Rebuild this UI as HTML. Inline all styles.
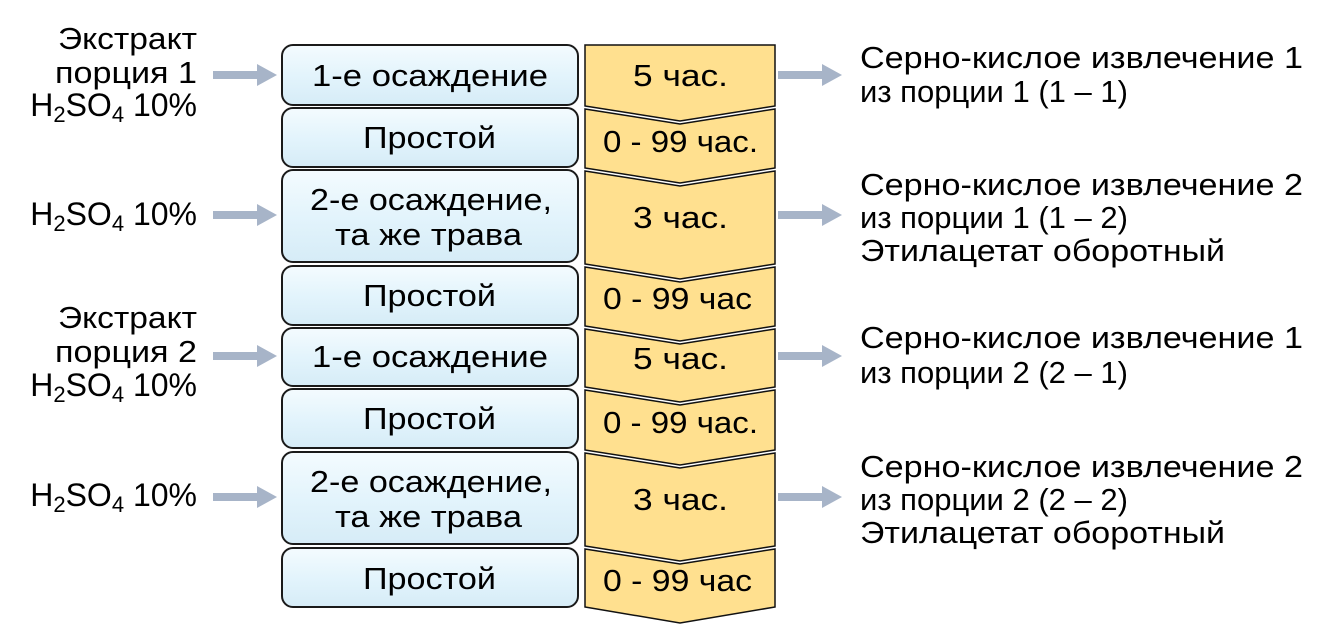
<!DOCTYPE html>
<html><head><meta charset="utf-8"><style>
html,body{margin:0;padding:0;background:#fff}
svg{display:block}
text{font-family:"Liberation Sans","Noto Sans CJK SC",sans-serif;fill:#000}
</style></head><body>
<svg width="1343" height="627" viewBox="0 0 1343 627" xmlns="http://www.w3.org/2000/svg">
<defs>
<linearGradient id="bg" x1="0" y1="0" x2="0" y2="1">
<stop offset="0" stop-color="#f4fbfe"/><stop offset="0.5" stop-color="#e3f4fc"/><stop offset="1" stop-color="#d6ecf7"/>
</linearGradient>
<g id="la"><rect x="0" y="-4" width="46" height="8" fill="#a7b4c8"/><polygon points="44,-11 64,0 44,11" fill="#a7b4c8"/></g>
</defs>
<g stroke="#111" stroke-width="1.5" fill="#ffe08f">
<polygon points="585,45 775,45 775,106 680,121 585,106"/>
<polygon points="585,109 680,124 775,109 775,168 680,183 585,168"/>
<polygon points="585,171 680,186 775,171 775,264 680,279 585,264"/>
<polygon points="585,267 680,282 775,267 775,326 680,341 585,326"/>
<polygon points="585,329 680,344 775,329 775,387 680,402 585,387"/>
<polygon points="585,390 680,405 775,390 775,450 680,465 585,450"/>
<polygon points="585,453 680,468 775,453 775,546 680,561 585,546"/>
<polygon points="585,549 680,564 775,549 775,607 680,623 585,607"/>
</g>
<g fill="url(#bg)" stroke="#1a1a1a" stroke-width="2">
<rect x="282" y="45" width="296" height="60" rx="11"/>
<rect x="282" y="108" width="296" height="59" rx="11"/>
<rect x="282" y="170" width="296" height="92" rx="11"/>
<rect x="282" y="266" width="296" height="59" rx="11"/>
<rect x="282" y="328" width="296" height="58" rx="11"/>
<rect x="282" y="389" width="296" height="59" rx="11"/>
<rect x="282" y="452" width="296" height="92" rx="11"/>
<rect x="282" y="548" width="296" height="59" rx="11"/>
</g>
<g font-size="31">
<text x="312" y="86" textLength="236" lengthAdjust="spacingAndGlyphs">1-е осаждение</text>
<text x="363" y="148" textLength="133" lengthAdjust="spacingAndGlyphs">Простой</text>
<text x="310" y="210" textLength="242" lengthAdjust="spacingAndGlyphs">2-е осаждение,</text>
<text x="335" y="245" textLength="187" lengthAdjust="spacingAndGlyphs">та же трава</text>
<text x="363" y="306" textLength="133" lengthAdjust="spacingAndGlyphs">Простой</text>
<text x="312" y="367" textLength="236" lengthAdjust="spacingAndGlyphs">1-е осаждение</text>
<text x="363" y="429" textLength="133" lengthAdjust="spacingAndGlyphs">Простой</text>
<text x="310" y="492" textLength="242" lengthAdjust="spacingAndGlyphs">2-е осаждение,</text>
<text x="335" y="527" textLength="187" lengthAdjust="spacingAndGlyphs">та же трава</text>
<text x="363" y="589" textLength="133" lengthAdjust="spacingAndGlyphs">Простой</text>

<text x="633" y="86" textLength="95" lengthAdjust="spacingAndGlyphs">5 час.</text>
<text x="603" y="152" textLength="155" lengthAdjust="spacingAndGlyphs">0 - 99 час.</text>
<text x="633" y="228" textLength="95" lengthAdjust="spacingAndGlyphs">3 час.</text>
<text x="603" y="309" textLength="149" lengthAdjust="spacingAndGlyphs">0 - 99 час</text>
<text x="633" y="369" textLength="95" lengthAdjust="spacingAndGlyphs">5 час.</text>
<text x="603" y="433" textLength="155" lengthAdjust="spacingAndGlyphs">0 - 99 час.</text>
<text x="633" y="510" textLength="95" lengthAdjust="spacingAndGlyphs">3 час.</text>
<text x="603" y="591" textLength="149" lengthAdjust="spacingAndGlyphs">0 - 99 час</text>

<text x="58" y="49" textLength="139" lengthAdjust="spacingAndGlyphs">Экстракт</text>
<text x="55" y="83" textLength="142" lengthAdjust="spacingAndGlyphs">порция 1</text>
<text x="58" y="328" textLength="139" lengthAdjust="spacingAndGlyphs">Экстракт</text>
<text x="55" y="362" textLength="142" lengthAdjust="spacingAndGlyphs">порция 2</text>
</g>
<g font-size="32" text-anchor="end">
<text x="197" y="116">H<tspan font-size="22" dy="6">2</tspan><tspan dy="-6">SO</tspan><tspan font-size="22" dy="6">4</tspan><tspan dy="-6"> 10%</tspan></text>
<text x="197" y="225">H<tspan font-size="22" dy="6">2</tspan><tspan dy="-6">SO</tspan><tspan font-size="22" dy="6">4</tspan><tspan dy="-6"> 10%</tspan></text>
<text x="197" y="396">H<tspan font-size="22" dy="6">2</tspan><tspan dy="-6">SO</tspan><tspan font-size="22" dy="6">4</tspan><tspan dy="-6"> 10%</tspan></text>
<text x="197" y="506">H<tspan font-size="22" dy="6">2</tspan><tspan dy="-6">SO</tspan><tspan font-size="22" dy="6">4</tspan><tspan dy="-6"> 10%</tspan></text>
</g>
<g font-size="31">
<text x="860" y="68" textLength="443" lengthAdjust="spacingAndGlyphs">Серно-кислое извлечение 1</text>
<text x="860" y="102" textLength="268" lengthAdjust="spacingAndGlyphs">из порции 1 (1 – 1)</text>
<text x="860" y="195" textLength="443" lengthAdjust="spacingAndGlyphs">Серно-кислое извлечение 2</text>
<text x="860" y="228" textLength="268" lengthAdjust="spacingAndGlyphs">из порции 1 (1 – 2)</text>
<text x="860" y="261" textLength="365" lengthAdjust="spacingAndGlyphs">Этилацетат оборотный</text>
<text x="860" y="348" textLength="443" lengthAdjust="spacingAndGlyphs">Серно-кислое извлечение 1</text>
<text x="860" y="383" textLength="268" lengthAdjust="spacingAndGlyphs">из порции 2 (2 – 1)</text>
<text x="860" y="477" textLength="443" lengthAdjust="spacingAndGlyphs">Серно-кислое извлечение 2</text>
<text x="860" y="510" textLength="268" lengthAdjust="spacingAndGlyphs">из порции 2 (2 – 2)</text>
<text x="860" y="543" textLength="365" lengthAdjust="spacingAndGlyphs">Этилацетат оборотный</text>
</g>
<use href="#la" x="213" y="75"/>
<use href="#la" x="213" y="215"/>
<use href="#la" x="213" y="356"/>
<use href="#la" x="213" y="497"/>
<use href="#la" x="778" y="75"/>
<use href="#la" x="778" y="215"/>
<use href="#la" x="778" y="356"/>
<use href="#la" x="778" y="497"/>
</svg>
</body></html>
